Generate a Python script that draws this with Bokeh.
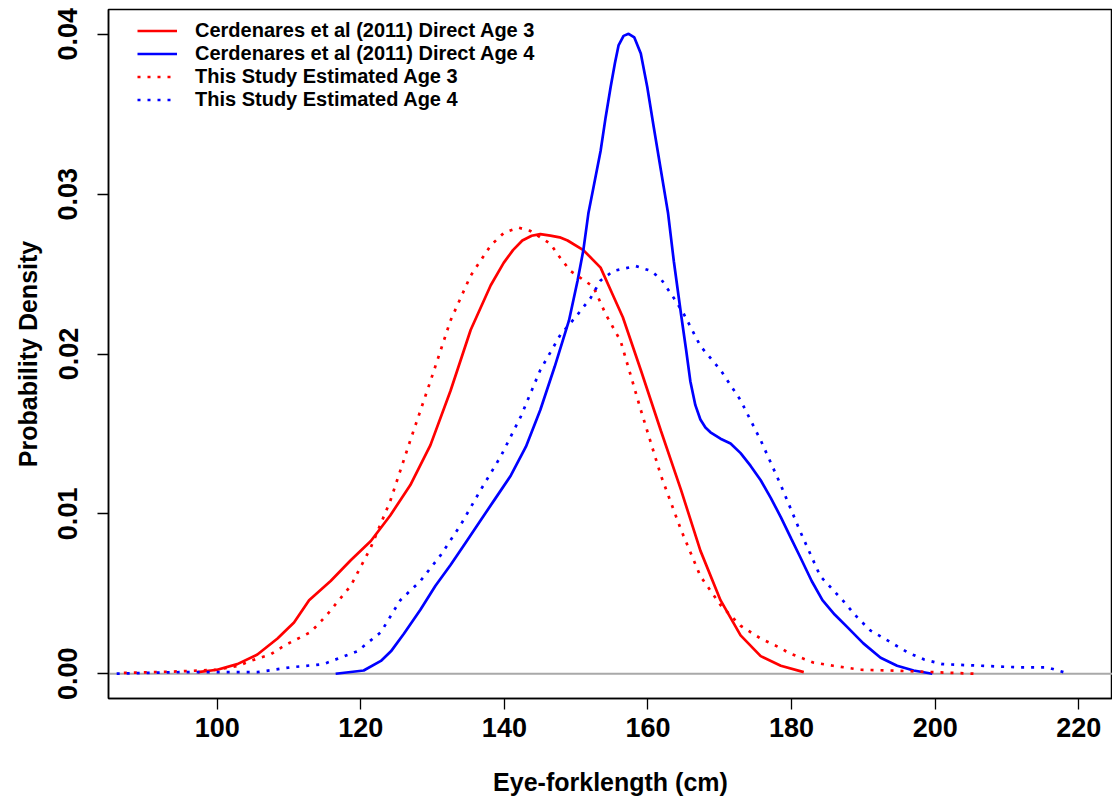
from bokeh.plotting import figure
from bokeh.models import Span, Legend, LegendItem, FixedTicker, NumeralTickFormatter, Range1d
from bokeh.embed import file_html
from bokeh.resources import INLINE

# Cerdenares et al (2011) Direct Age 3 (red solid)
rs_x = [97.3, 100, 102.8, 105.6, 108.4, 110.7, 112.8, 115.8, 118.6, 121.4, 124.1, 126.9, 129.7,
        132.5, 135.3, 138.1, 139.9, 141.2, 142.5, 143.8, 145.0, 146.4, 147.7, 148.8, 151.0, 153.4,
        155.2, 156.5, 159.0, 161.8, 164.6, 167.3, 170.1, 172.9, 175.7, 178.5, 181.7]
rs_y = [0.0001, 0.00025, 0.0006, 0.0012, 0.0022, 0.0032, 0.0046, 0.0058, 0.0071, 0.0083, 0.0099,
        0.0118, 0.0143, 0.0177, 0.0215, 0.0243, 0.0257, 0.0265, 0.0271, 0.0274, 0.0275, 0.0274,
        0.0273, 0.0271, 0.0265, 0.0254, 0.0236, 0.0223, 0.0190, 0.0152, 0.0115, 0.0077, 0.0046,
        0.0024, 0.0011, 0.0005, 0.0001]

# Cerdenares et al (2011) Direct Age 4 (blue solid)
bs_x = [116.5, 120.4, 122.8, 124.2, 126.0, 128.3, 130.4, 132.5, 134.6, 136.7, 138.8, 140.9, 143.0,
        145.0, 147.0, 149.0, 150.2, 151.0, 151.7, 152.4, 153.4, 154.1, 154.8, 155.4, 155.9, 156.6,
        157.3, 158.1, 159.0, 159.9, 160.8, 161.8, 162.8, 163.6, 164.6, 165.3, 165.9, 166.6, 167.3,
        168.0, 168.7, 170.1, 171.5, 172.9, 174.3, 175.7, 177.1, 178.5, 180.0, 181.2, 182.8, 184.3,
        186.0, 187.8, 190.0, 192.4, 194.7, 197.0, 199.6]
bs_y = [0.0, 0.0002, 0.0008, 0.0014, 0.0025, 0.0040, 0.0055, 0.0068, 0.0082, 0.0096, 0.0110,
        0.0124, 0.0142, 0.0165, 0.0192, 0.0221, 0.0246, 0.0265, 0.0288, 0.0304, 0.0327, 0.0348,
        0.0367, 0.0382, 0.0393, 0.0399, 0.04003, 0.0398, 0.0388, 0.0367, 0.0342, 0.0315, 0.0288,
        0.0258, 0.0225, 0.0203, 0.0183, 0.0168, 0.0159, 0.0154, 0.0151, 0.0147, 0.0144, 0.0138,
        0.0130, 0.0121, 0.0110, 0.0098, 0.0084, 0.0073, 0.0058, 0.0046, 0.0037, 0.0029, 0.0019,
        0.0010, 0.0005, 0.0002, 0.0]

# This Study Estimated Age 3 (red dotted)
rd_x = [87.0, 95.0, 100.0, 103.0, 104.6, 107.4, 109.5, 111.7, 113.0, 114.5, 115.5, 116.4, 118.6,
        121.4, 124.1, 126.9, 129.7, 132.5, 135.3, 138.1, 140.0, 142.0, 143.6, 146.4, 147.8, 149.2,
        152.4, 154.1, 156.2, 159.0, 161.8, 164.6, 167.3, 170.1, 172.9, 175.7, 178.5, 179.6, 181.9,
        183.0, 185.8, 189.6, 193.8, 198.0, 205.4]
rd_y = [0.00005, 0.00015, 0.00025, 0.0005, 0.0008, 0.0012, 0.0018, 0.0023, 0.0026, 0.0033, 0.0038,
        0.0043, 0.0055, 0.0079, 0.0108, 0.0146, 0.0183, 0.0221, 0.0249, 0.0268, 0.0276, 0.0279,
        0.0277, 0.0269, 0.0260, 0.0252, 0.0242, 0.0225, 0.0208, 0.0165, 0.0124, 0.0090, 0.0061,
        0.0043, 0.0030, 0.0022, 0.0016, 0.0013, 0.0009, 0.0007, 0.0005, 0.00025, 0.0002, 0.00013,
        0.0]

# This Study Estimated Age 4 (blue dotted)
bd_x = [86.0, 90.0, 95.0, 100.0, 105.6, 110.2, 114.8, 119.5, 122.8, 125.5, 128.3, 131.1, 133.9,
        136.7, 139.5, 142.3, 145.0, 147.8, 149.9, 150.6, 152.0, 153.4, 155.2, 158.3, 160.4, 161.8,
        163.6, 165.0, 167.3, 170.1, 172.9, 175.7, 178.5, 181.2, 184.0, 187.1, 189.2, 191.0, 193.3,
        196.3, 198.4, 201.0, 206.3, 211.6, 215.6, 218.6]
bd_y = [0.0, 0.00005, 0.0001, 0.0001, 0.0001, 0.0004, 0.0006, 0.0014, 0.0026, 0.0046, 0.0058,
        0.0074, 0.0093, 0.0115, 0.0136, 0.0161, 0.0190, 0.0212, 0.0223, 0.0227, 0.0235, 0.0246,
        0.0252, 0.0255, 0.0252, 0.0247, 0.0235, 0.0225, 0.0205, 0.0190, 0.0171, 0.0146, 0.0118,
        0.0089, 0.0061, 0.0046, 0.0035, 0.0027, 0.0021, 0.0013, 0.0009, 0.0006, 0.0005, 0.0004,
        0.0004, 0.0]

labels = ["Cerdenares et al (2011) Direct Age 3",
          "Cerdenares et al (2011) Direct Age 4",
          "This Study Estimated Age 3",
          "This Study Estimated Age 4"]
x_ticks = [100, 120, 140, 160, 180, 200, 220]
y_ticks = [0.0, 0.01, 0.02, 0.03, 0.04]

FONT = "Liberation Sans"
RED = "#ff0000"
BLUE = "#0000ff"

p = figure(width=1112, height=800, output_backend="svg", toolbar_location=None,
           x_range=Range1d(84.86, 224.7), y_range=Range1d(-0.00155, 0.04155),
           min_border_left=108, min_border_right=0, min_border_top=9, min_border_bottom=102)
p.background_fill_color = "white"
p.border_fill_color = "white"
p.grid.visible = False
p.outline_line_color = "black"
p.outline_line_width = 1.5

zero = Span(location=0, dimension="width", line_color="#a9a9a9", line_width=2, level="underlay")
p.add_layout(zero)

r1 = p.line(rs_x, rs_y, line_color=RED, line_width=2.7)
r2 = p.line(bs_x, bs_y, line_color=BLUE, line_width=2.7)
r3 = p.line(rd_x, rd_y, line_color=RED, line_width=2.7, line_dash="3 7")
r4 = p.line(bd_x, bd_y, line_color=BLUE, line_width=2.7, line_dash="3 7")

legend = Legend(items=[LegendItem(label=labels[0], renderers=[r1]),
                       LegendItem(label=labels[1], renderers=[r2]),
                       LegendItem(label=labels[2], renderers=[r3]),
                       LegendItem(label=labels[3], renderers=[r4])],
                location=(29, 587), border_line_color=None, background_fill_alpha=0,
                padding=0, margin=0, spacing=0, glyph_width=40, glyph_height=21,
                label_height=21, label_standoff=18,
                label_text_font=FONT, label_text_font_style="bold",
                label_text_font_size="20px", label_text_color="black")
p.add_layout(legend)

xa = p.xaxis[0]
xa.ticker = FixedTicker(ticks=x_ticks)
xa.axis_label = "Eye-forklength (cm)"
ya = p.yaxis[0]
ya.ticker = FixedTicker(ticks=y_ticks)
ya.formatter = NumeralTickFormatter(format="0.00")
ya.axis_label = "Probability Density"
ya.major_label_orientation = "vertical"

for ax in (xa, ya):
    ax.minor_tick_line_color = None
    ax.major_tick_in = 0
    ax.major_tick_out = 11
    ax.major_tick_line_color = "black"
    ax.major_tick_line_width = 1.3
    ax.axis_line_color = "black"
    ax.axis_line_width = 1.5
    ax.major_label_text_font = FONT
    ax.major_label_text_font_style = "bold"
    ax.major_label_text_font_size = "27px"
    ax.major_label_text_color = "black"
    ax.axis_label_text_font = FONT
    ax.axis_label_text_font_style = "bold"
    ax.axis_label_text_font_size = "25px"
    ax.axis_label_text_color = "black"

xa.major_label_standoff = 8
xa.axis_label_standoff = 28
ya.major_label_standoff = 20
ya.axis_label_standoff = 14

open("out.html", "w").write(file_html(p, INLINE))
